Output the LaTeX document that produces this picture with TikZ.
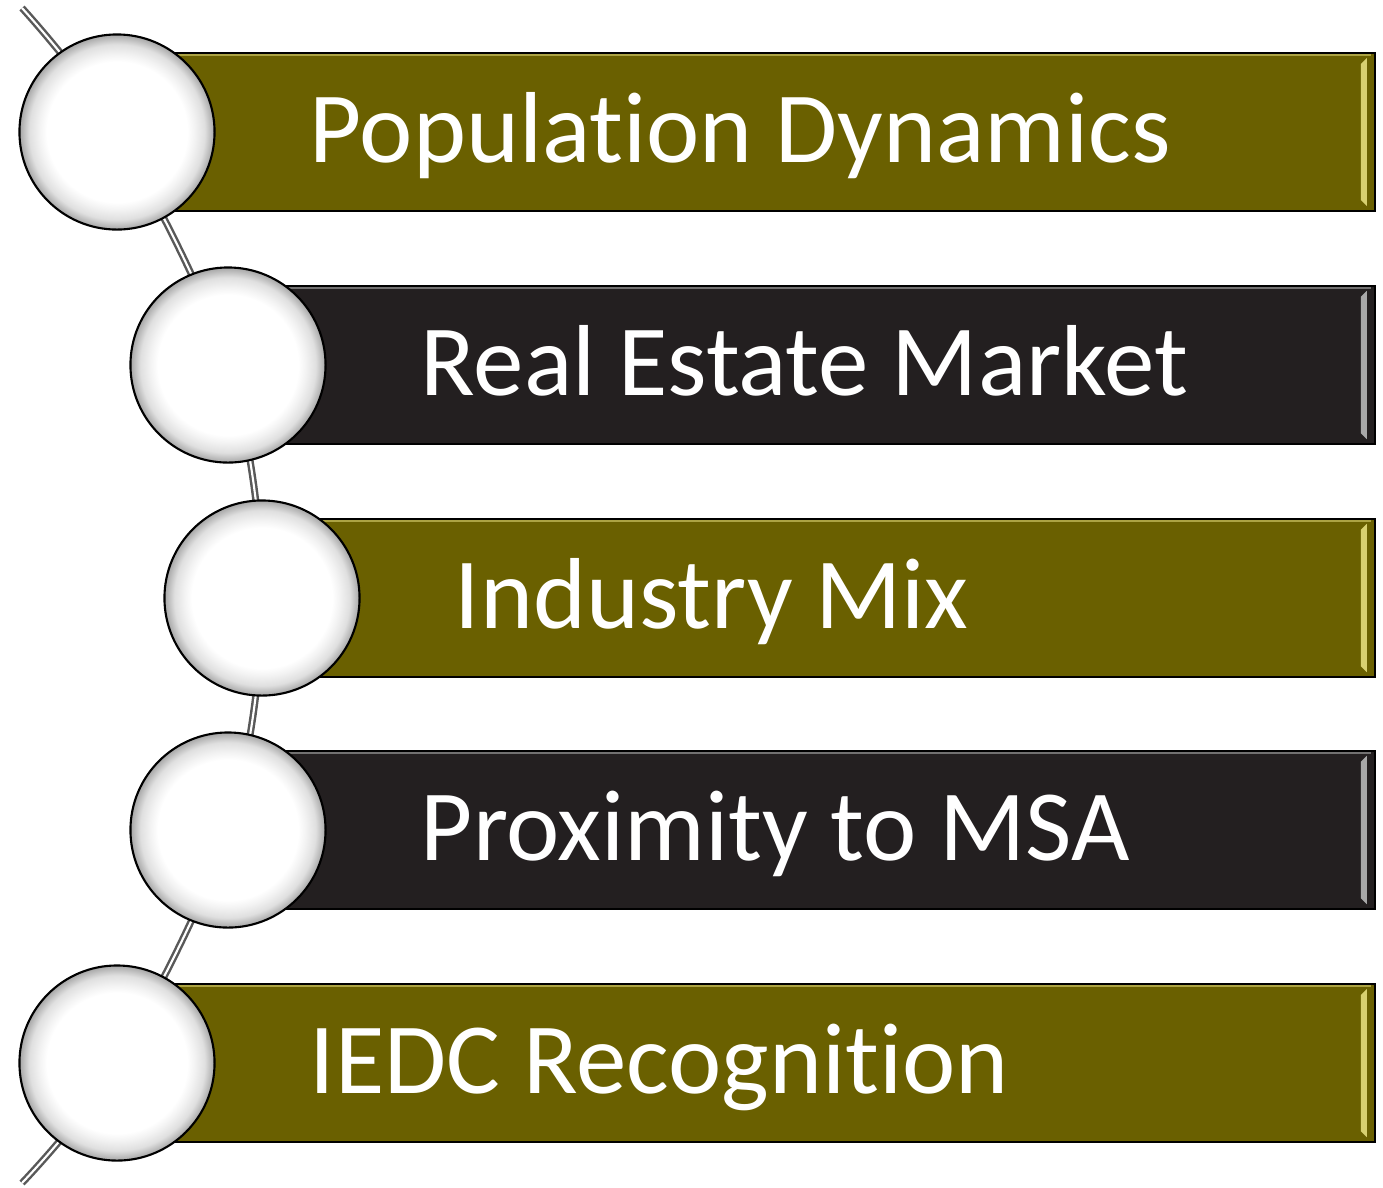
\documentclass[tikz,border=0pt]{standalone}
\usepackage{fontspec}
\setmainfont{Carlito}[Ligatures=NoCommon]
\usepackage{xcolor}

\definecolor{olivebar}{HTML}{6A6000}
\definecolor{darkbar}{HTML}{231F20}
\definecolor{olivelight}{HTML}{D8D070}
\definecolor{darklight}{HTML}{A8A8A8}

\pgfdeclareradialshading{bead}{\pgfpoint{0bp}{0bp}}{%
  color(0bp)=(white); color(18bp)=(white); color(20bp)=(gray!10);
  color(22.5bp)=(gray!25); color(25bp)=(gray!70); color(50bp)=(gray!70)}

\tikzset{
  spine/.style = {draw=gray!70!black, line width=0.7pt, double=white, double distance=0.6pt},
  stepbar/.style = {rectangle, draw=black, line width=0.6pt, minimum height=1.58cm, anchor=west, inner sep=0pt},
  bead/.style = {circle, draw=black, line width=0.6pt, shading=bead, minimum size=1.95cm, inner sep=0pt},
  label/.style = {text=white, anchor=base west, inner sep=0pt, font=\fontsize{28.7}{34}\selectfont}
}

% light bevel down the right end of a bar
\newcommand\barbevel[2]{%
  \fill[#2] ([shift={(-0.15cm,-0.12cm)}]#1.north east) -- ([shift={(-0.09cm,-0.06cm)}]#1.north east)
    -- ([shift={(-0.09cm,0.06cm)}]#1.south east) -- ([shift={(-0.15cm,0.12cm)}]#1.south east) -- cycle;
  \draw[#2, opacity=0.6, line width=0.8pt] ([shift={(0.05cm,-0.03cm)}]#1.north west) -- ([shift={(-0.05cm,-0.03cm)}]#1.north east);
}

\begin{document}
\begin{tikzpicture}[x=0.01cm, y=-0.01cm]
    \useasboundingbox (0,0) rectangle (1383,1187);

    \coordinate (top) at (22,8);
    \coordinate (c1) at (117,132);
    \coordinate (c2) at (228,365);
    \coordinate (c3) at (262,598);
    \coordinate (c4) at (228,830);
    \coordinate (c5) at (117,1063);
    \coordinate (bottom) at (22,1183);

    \draw [spine] plot [smooth, tension=0.55] coordinates {(top) (c1) (c2) (c3) (c4) (c5) (bottom)};

    % bars
    \node [stepbar, fill=olivebar, minimum width=12.56cm] (bar1) at (c1) {};
    \node [stepbar, fill=darkbar, minimum width=11.45cm] (bar2) at (c2) {};
    \node [stepbar, fill=olivebar, minimum width=11.11cm] (bar3) at (c3) {};
    \node [stepbar, fill=darkbar, minimum width=11.45cm] (bar4) at (c4) {};
    \node [stepbar, fill=olivebar, minimum width=12.56cm] (bar5) at (c5) {};

    \barbevel{bar1}{olivelight}
    \barbevel{bar2}{darklight}
    \barbevel{bar3}{olivelight}
    \barbevel{bar4}{darklight}
    \barbevel{bar5}{olivelight}

    % texts
    \node [label] (lbl1) at ([shift={(1.92cm,-0.30cm)}]c1) {Population Dynamics};
    \node [label] (lbl2) at ([shift={(1.92cm,-0.30cm)}]c2) {Real Estate Market};
    \node [label] (lbl3) at ([shift={(1.92cm,-0.30cm)}]c3) {Industry Mix};
    \node [label] (lbl4) at ([shift={(1.92cm,-0.30cm)}]c4) {Proximity to MSA};
    \node [label] (lbl5) at ([shift={(1.92cm,-0.30cm)}]c5) {IEDC Recognition};

    % beads
    \foreach \i in {1,...,5}
        \node [bead] (bead\i) at (c\i) {};
\end{tikzpicture}
\end{document}
